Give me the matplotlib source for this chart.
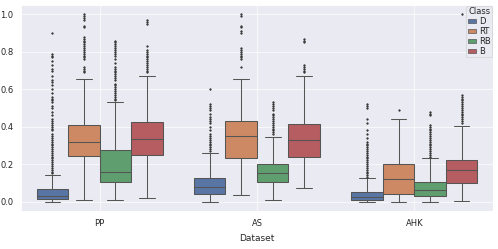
import matplotlib
matplotlib.use('Agg')
import matplotlib.pyplot as plt
import seaborn as sns
from matplotlib.patches import Patch

sns.set_theme(style='darkgrid')
plt.rcParams['font.family'] = ['DejaVu Sans']

datasets = ['PP', 'AS', 'AHK']
classes = ['D', 'RT', 'RB', 'B']
colors = [sns.desaturate(c, 0.75) for c in ['#4c72b0', '#dd8452', '#55a868', '#c44e52']]

# box statistics, one list per dataset, order D, RT, RB, B
whislo = {'PP': [0.0, 0.01, 0.01, 0.018],
          'AS': [0.0, 0.037, 0.01, 0.07],
          'AHK': [0.0, 0.0, 0.0, 0.005]}
q1 = {'PP': [0.016, 0.244, 0.104, 0.251],
      'AS': [0.042, 0.233, 0.106, 0.237],
      'AHK': [0.010, 0.039, 0.027, 0.100]}
med = {'PP': [0.03, 0.32, 0.157, 0.332],
       'AS': [0.08, 0.348, 0.150, 0.329],
       'AHK': [0.025, 0.122, 0.064, 0.170]}
q3 = {'PP': [0.067, 0.41, 0.274, 0.424],
      'AS': [0.127, 0.43, 0.200, 0.413],
      'AHK': [0.053, 0.200, 0.106, 0.223]}
whishi = {'PP': [0.143, 0.655, 0.533, 0.67],
          'AS': [0.258, 0.655, 0.345, 0.671],
          'AHK': [0.124, 0.44, 0.230, 0.405]}

# outliers
fliers = {
    'PP': [
        [0.15, 0.16, 0.17, 0.18, 0.19, 0.2, 0.21, 0.22, 0.23, 0.24, 0.25, 0.26, 0.27,
         0.28, 0.29, 0.3, 0.31, 0.32, 0.33, 0.34, 0.35, 0.36, 0.38, 0.39, 0.4, 0.41,
         0.42, 0.43, 0.44, 0.46, 0.48, 0.5, 0.51, 0.53, 0.54, 0.55, 0.56, 0.58, 0.6,
         0.62, 0.64, 0.65, 0.67, 0.7, 0.71, 0.73, 0.75, 0.77, 0.78, 0.79, 0.9],
        [0.69, 0.7, 0.71, 0.72, 0.76, 0.77, 0.78, 0.79, 0.8, 0.81, 0.82, 0.83, 0.84,
         0.85, 0.86, 0.87, 0.88, 0.93, 0.94, 0.97, 0.98, 0.99, 1.0],
        [0.54, 0.55, 0.56, 0.57, 0.58, 0.59, 0.6, 0.61, 0.62, 0.63, 0.65, 0.66, 0.67,
         0.68, 0.69, 0.7, 0.71, 0.72, 0.74, 0.76, 0.78, 0.79, 0.8, 0.81, 0.82, 0.83,
         0.84, 0.85, 0.86],
        [0.69, 0.7, 0.71, 0.72, 0.73, 0.74, 0.75, 0.76, 0.77, 0.78, 0.79, 0.8, 0.81,
         0.83, 0.95, 0.96, 0.97],
    ],
    'AS': [
        [0.27, 0.28, 0.29, 0.3, 0.31, 0.32, 0.33, 0.34, 0.35, 0.36, 0.38, 0.4, 0.42,
         0.43, 0.44, 0.45, 0.47, 0.49, 0.5, 0.51, 0.52, 0.6],
        [0.72, 0.76, 0.77, 0.78, 0.79, 0.8, 0.81, 0.82, 0.9, 0.91, 0.93, 0.94, 0.99, 1.0],
        [0.36, 0.37, 0.38, 0.39, 0.4, 0.41, 0.42, 0.43, 0.44, 0.45, 0.46, 0.47, 0.49,
         0.5, 0.51, 0.52, 0.53],
        [0.69, 0.7, 0.71, 0.72, 0.73, 0.85, 0.86, 0.87],
    ],
    'AHK': [
        [0.13, 0.14, 0.15, 0.16, 0.17, 0.18, 0.19, 0.2, 0.21, 0.22, 0.23, 0.24, 0.25,
         0.26, 0.27, 0.28, 0.29, 0.3, 0.31, 0.32, 0.34, 0.36, 0.38, 0.42, 0.44, 0.5,
         0.51, 0.52],
        [0.49],
        [0.24, 0.25, 0.26, 0.27, 0.28, 0.29, 0.3, 0.31, 0.32, 0.33, 0.34, 0.35, 0.36,
         0.37, 0.38, 0.39, 0.4, 0.41, 0.46, 0.47, 0.48],
        [0.42, 0.43, 0.44, 0.45, 0.46, 0.47, 0.48, 0.49, 0.5, 0.51, 0.52, 0.53, 0.54,
         0.55, 0.56, 0.57, 1.0],
    ],
}

fig = plt.figure(figsize=(9.96, 4.98), dpi=50)
ax = fig.add_axes([0.042, 0.153, 0.948, 0.827])

line_kw = dict(color='#555555', linewidth=1.5)
width = 0.2
for i, ds in enumerate(datasets):
    for j, cls in enumerate(classes):
        pos = i + (j - 1.5) * width
        stats = [dict(whislo=whislo[ds][j], q1=q1[ds][j], med=med[ds][j],
                      q3=q3[ds][j], whishi=whishi[ds][j], fliers=fliers[ds][j])]
        ax.bxp(stats, positions=[pos], widths=[width], patch_artist=True,
               boxprops=dict(facecolor=colors[j], edgecolor='#555555', linewidth=1.5),
               medianprops=line_kw, whiskerprops=line_kw, capprops=line_kw,
               flierprops=dict(marker='o', markersize=2.2, markerfacecolor='#3a3a3a',
                               markeredgecolor='#3a3a3a'),
               manage_ticks=False)

ax.set_xlim(-0.5, 2.5)
ax.set_ylim(-0.05, 1.05)
ax.set_xticks(range(len(datasets)))
ax.set_xticklabels(datasets)
ax.set_yticks([0.0, 0.2, 0.4, 0.6, 0.8, 1.0])
ax.tick_params(labelsize=12, pad=5)
ax.set_xlabel('Dataset', fontsize=13, labelpad=9)

handles = [Patch(facecolor=c, edgecolor='#555555', label=l) for c, l in zip(colors, classes)]
ax.legend(handles=handles, title='Class', loc='upper right', fontsize=12,
          title_fontsize=12, handlelength=1.0, handleheight=0.4,
          borderaxespad=0.1, borderpad=0.2, labelspacing=0.1, handletextpad=0.3)

fig.savefig('out.png', dpi=50)
